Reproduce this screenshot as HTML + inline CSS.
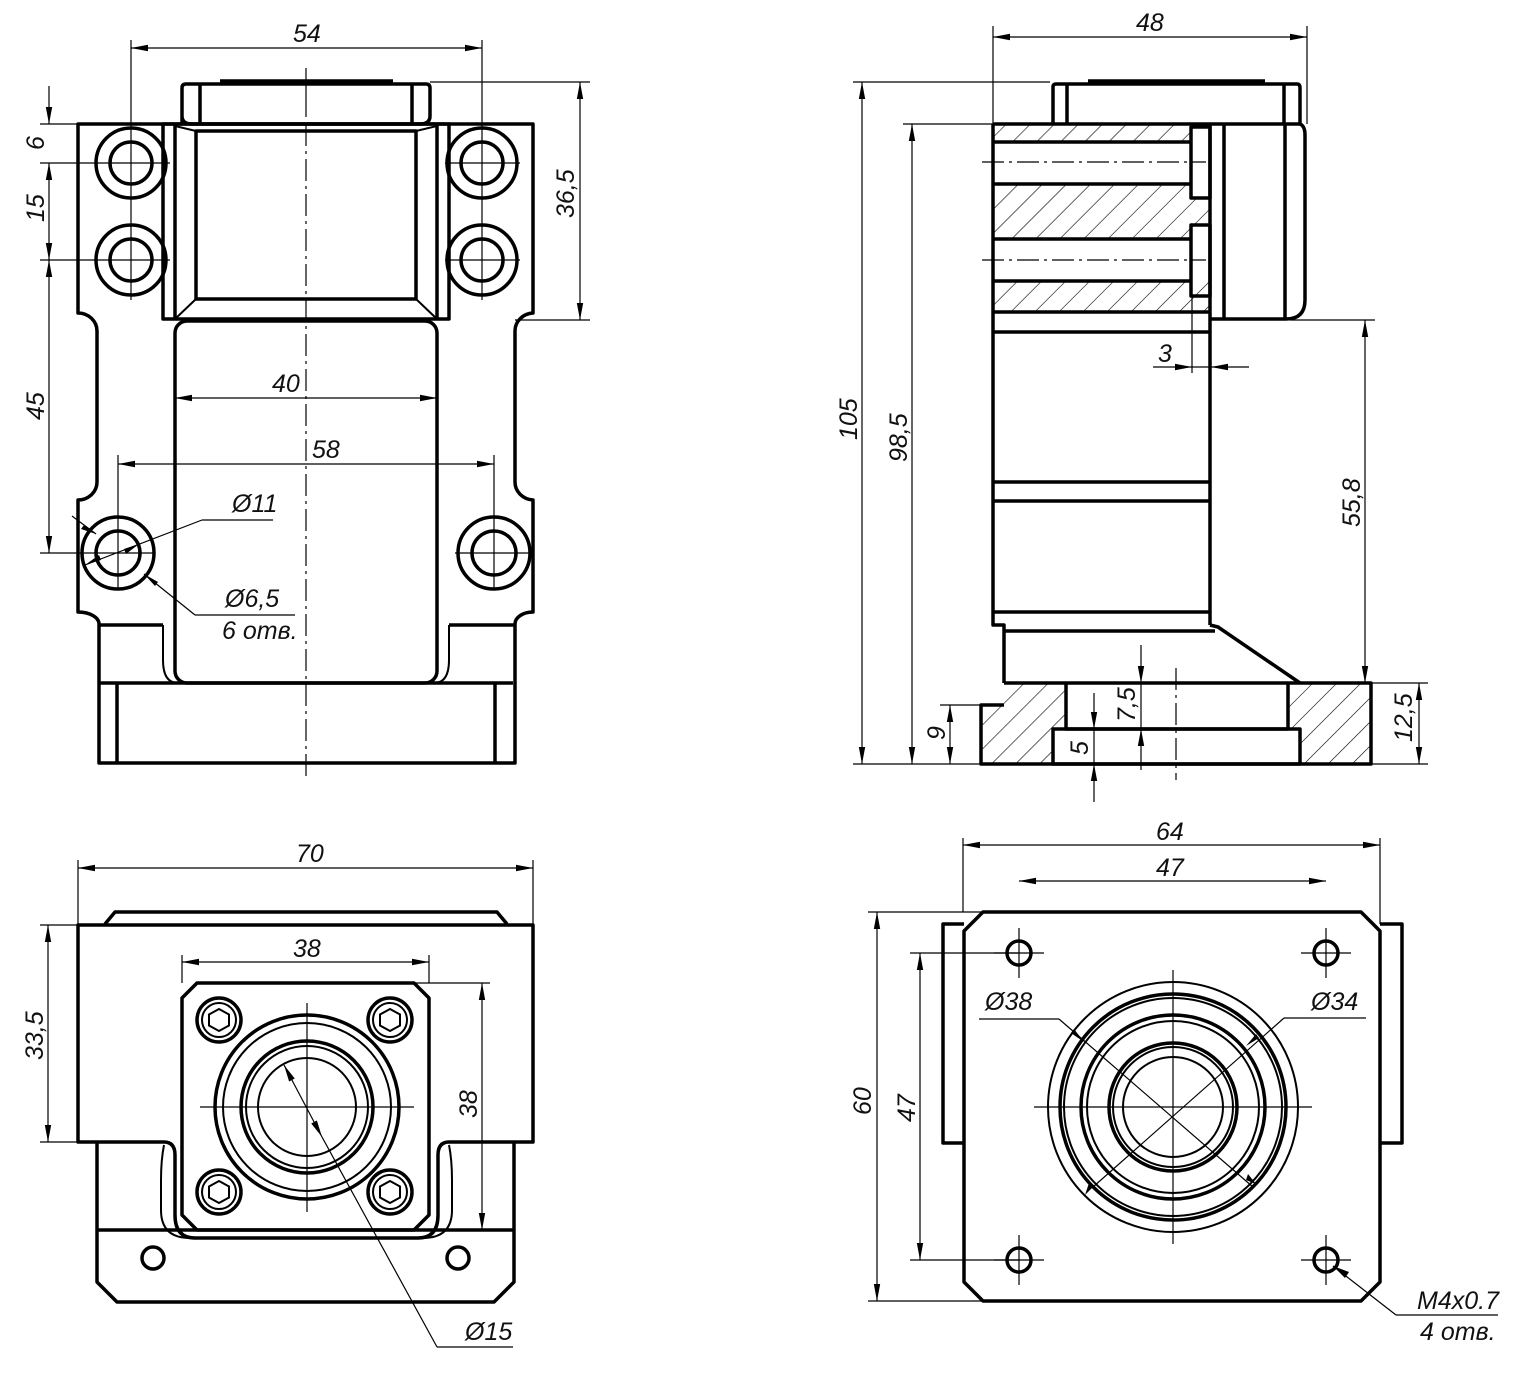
<!DOCTYPE html>
<html><head><meta charset="utf-8">
<style>
html,body{margin:0;padding:0;background:#fff;}
svg{display:block;}
text{font-family:"Liberation Sans Narrow","Liberation Sans",sans-serif;font-size:25px;font-style:italic;fill:#111;}
.k{fill:none;stroke:#000;stroke-width:3.5;stroke-linejoin:round;}
.m{fill:none;stroke:#000;stroke-width:2;}
.t{fill:none;stroke:#000;stroke-width:1.2;}
.d{fill:none;stroke:#000;stroke-width:1.2;marker-start:url(#a);marker-end:url(#a);}
.e{fill:none;stroke:#000;stroke-width:1.2;marker-end:url(#a);}
.c{fill:none;stroke:#000;stroke-width:1.2;stroke-dasharray:22,5,3,5;}
.h{fill:url(#hatch);stroke:none;}
</style></head><body>
<svg width="1525" height="1374" viewBox="0 0 1525 1374" xmlns="http://www.w3.org/2000/svg">
<defs>
<marker id="a" markerUnits="userSpaceOnUse" markerWidth="20" markerHeight="10" refX="0" refY="0" viewBox="-18 -5 20 10" orient="auto-start-reverse">
<path d="M0,0 L-17,-3.2 L-17,3.2 Z" fill="#000"/>
</marker>
<pattern id="hatch" patternUnits="userSpaceOnUse" width="17" height="17" patternTransform="rotate(45)">
<line x1="0" y1="0" x2="0" y2="17" stroke="#000" stroke-width="1.2"/>
</pattern>
</defs>

<!-- ================= TOP LEFT VIEW ================= -->
<path class="k" d="M182,124 V88 Q182,84 186,84 H426 Q430,84 430,88 V116 Q430,124 420,124 H192 Q182,124 182,116"/>
<line class="k" x1="200" y1="84" x2="200" y2="124"/>
<line class="k" x1="412" y1="84" x2="412" y2="124"/>
<line class="k" x1="220" y1="81" x2="393" y2="81"/>
<path class="k" d="M78,124 H533 V313 A19,18 0 0 0 515,331 V482 A19,18 0 0 0 533,500 V612 A18,12 0 0 0 515,624 V763 H99 V624 A21,12 0 0 0 78,612 V500 A19,18 0 0 0 97,482 V331 A19,18 0 0 0 78,313 Z"/>
<line class="k" x1="99" y1="625" x2="163" y2="625"/>
<line class="k" x1="449" y1="625" x2="515" y2="625"/>
<path class="m" d="M163,625 V660 Q163,683 178,683"/>
<path class="m" d="M449,625 V660 Q449,683 434,683"/>
<rect class="k" x="163" y="124" width="286" height="195"/>
<line class="k" x1="175" y1="124" x2="175" y2="319"/>
<line class="k" x1="437" y1="124" x2="437" y2="319"/>
<rect class="k" x="196" y="131" width="220" height="168"/>
<line class="m" x1="175" y1="319" x2="196" y2="299"/>
<line class="m" x1="437" y1="319" x2="416" y2="299"/>
<line class="m" x1="175" y1="126" x2="196" y2="131"/>
<line class="m" x1="437" y1="126" x2="416" y2="131"/>
<rect class="k" x="175" y="321" width="262" height="362" rx="12"/>
<line class="k" x1="99" y1="683" x2="513" y2="683"/>
<line class="k" x1="117" y1="683" x2="117" y2="763"/>
<line class="k" x1="495" y1="683" x2="495" y2="763"/>
<g class="k">
<circle cx="131" cy="163" r="35"/><circle cx="131" cy="163" r="21"/>
<circle cx="131" cy="260" r="35"/><circle cx="131" cy="260" r="21"/>
<circle cx="482" cy="163" r="35"/><circle cx="482" cy="163" r="21"/>
<circle cx="482" cy="260" r="35"/><circle cx="482" cy="260" r="21"/>
<circle cx="118" cy="553" r="36"/><circle cx="118" cy="553" r="22"/>
<circle cx="494" cy="553" r="36"/><circle cx="494" cy="553" r="22"/>
</g>
<line class="t" x1="306" y1="68" x2="306" y2="117"/>
<line class="c" x1="306" y1="124" x2="306" y2="777"/>
<line class="t" x1="131" y1="40" x2="131" y2="300"/>
<line class="t" x1="482" y1="40" x2="482" y2="300"/>
<line class="t" x1="118" y1="455" x2="118" y2="590"/>
<line class="t" x1="494" y1="455" x2="494" y2="590"/>
<line class="t" x1="40" y1="124" x2="78" y2="124"/>
<line class="t" x1="40" y1="163" x2="170" y2="163"/>
<line class="t" x1="40" y1="260" x2="170" y2="260"/>
<line class="t" x1="40" y1="553" x2="155" y2="553"/>
<line class="t" x1="445" y1="163" x2="520" y2="163"/>
<line class="t" x1="445" y1="260" x2="520" y2="260"/>
<line class="t" x1="455" y1="553" x2="530" y2="553"/>
<line class="t" x1="430" y1="82" x2="590" y2="82"/>
<line class="t" x1="515" y1="320" x2="590" y2="320"/>
<line class="d" x1="131" y1="48" x2="482" y2="48"/>
<text x="293" y="42">54</text>
<line class="d" x1="175" y1="398" x2="437" y2="398"/>
<text x="272" y="392">40</text>
<line class="d" x1="118" y1="464" x2="494" y2="464"/>
<text x="312" y="458">58</text>
<line class="d" x1="580" y1="82" x2="580" y2="320"/>
<text transform="translate(574,218) rotate(-90)">36,5</text>
<line class="e" x1="49" y1="86" x2="49" y2="124"/>
<line class="d" x1="49" y1="163" x2="49" y2="260"/>
<line class="d" x1="49" y1="260" x2="49" y2="553"/>
<text transform="translate(44,150) rotate(-90)">6</text>
<text transform="translate(44,222) rotate(-90)">15</text>
<text transform="translate(44,420) rotate(-90)">45</text>
<line class="t" x1="72" y1="516" x2="96" y2="534"/>
<line class="t" x1="85" y1="565" x2="202" y2="520"/>
<line class="t" x1="202" y1="520" x2="273" y2="520"/>
<path d="M85,565 l14,-10 l2,5 Z M139,544 l-13,10 l-2,-5 Z M96,534 l-12,-9 l-3,4 Z" fill="#000"/>
<line class="t" x1="144" y1="574" x2="195" y2="615"/>
<line class="t" x1="195" y1="615" x2="295" y2="615"/>
<path d="M144,574 l14,8 l-3,4 Z" fill="#000"/>
<text x="232" y="512">Ø11</text>
<text x="225" y="607">Ø6,5</text>
<text x="222" y="639">6 отв.</text>

<!-- ================= TOP RIGHT VIEW ================= -->
<path class="k" d="M1053,124 V87 Q1053,84 1056,84 H1297 Q1300,84 1300,88 V124"/>
<line class="k" x1="1067" y1="84" x2="1067" y2="124"/>
<line class="k" x1="1284" y1="84" x2="1284" y2="124"/>
<line class="k" x1="1088" y1="81" x2="1265" y2="81"/>
<rect class="h" x="993" y="124" width="198" height="18"/>
<rect class="h" x="993" y="184" width="198" height="55"/>
<rect class="h" x="993" y="281" width="217" height="31"/>
<rect class="h" x="1191" y="198" width="19" height="27"/>
<path class="k" d="M993,124 H1300 Q1305,126 1305,135 V300 Q1305,319 1286,319 H1210"/>
<line class="k" x1="993" y1="124" x2="993" y2="615"/>
<line class="k" x1="1210" y1="124" x2="1210" y2="625"/>
<line class="k" x1="1224" y1="124" x2="1224" y2="319"/>
<line class="k" x1="1285" y1="124" x2="1285" y2="319"/>
<line class="k" x1="993" y1="142" x2="1191" y2="142"/>
<line class="k" x1="993" y1="184" x2="1191" y2="184"/>
<line class="k" x1="993" y1="239" x2="1191" y2="239"/>
<line class="k" x1="993" y1="281" x2="1191" y2="281"/>
<rect class="k" x="1191" y="127" width="19" height="71"/>
<rect class="k" x="1191" y="225" width="19" height="71"/>
<line class="k" x1="993" y1="312" x2="1210" y2="312"/>
<line class="k" x1="993" y1="332" x2="1210" y2="332"/>
<line class="k" x1="993" y1="482" x2="1210" y2="482"/>
<line class="k" x1="993" y1="501" x2="1210" y2="501"/>
<line class="k" x1="993" y1="612" x2="1210" y2="612"/>
<line class="c" x1="982" y1="162" x2="1206" y2="162"/>
<line class="c" x1="982" y1="260" x2="1206" y2="260"/>
<path class="k" d="M993,615 V625 H1004 V683"/>
<line class="k" x1="1004" y1="631" x2="1215" y2="631"/>
<path class="k" d="M1210,625 L1218,627 L1300,683"/>
<path class="h" d="M981,705 H1004 V683 H1066 V729 H1053 V764 H981 Z"/>
<path class="h" d="M1288,683 H1371 V764 H1300 V729 H1288 Z"/>
<path class="k" d="M1004,683 H1371 V764 H981 V705 H1004"/>
<path class="k" d="M1066,683 V729 H1288 V683"/>
<rect class="k" x="1053" y="729" width="247" height="35"/>
<line class="c" x1="1176" y1="668" x2="1176" y2="780"/>
<line class="t" x1="993" y1="26" x2="993" y2="124"/>
<line class="t" x1="1307" y1="26" x2="1307" y2="124"/>
<line class="d" x1="993" y1="37" x2="1307" y2="37"/>
<text x="1136" y="31">48</text>
<line class="t" x1="853" y1="82" x2="1050" y2="82"/>
<line class="t" x1="903" y1="124" x2="993" y2="124"/>
<line class="t" x1="853" y1="764" x2="981" y2="764"/>
<line class="t" x1="940" y1="705" x2="981" y2="705"/>
<line class="d" x1="862" y1="82" x2="862" y2="764"/>
<line class="d" x1="912" y1="124" x2="912" y2="764"/>
<line class="d" x1="950" y1="705" x2="950" y2="764"/>
<text transform="translate(857,440) rotate(-90)">105</text>
<text transform="translate(907,462) rotate(-90)">98,5</text>
<text transform="translate(945,740) rotate(-90)">9</text>
<line class="t" x1="1290" y1="320" x2="1375" y2="320"/>
<line class="t" x1="1371" y1="683" x2="1428" y2="683"/>
<line class="t" x1="1371" y1="764" x2="1428" y2="764"/>
<line class="d" x1="1365" y1="320" x2="1365" y2="683"/>
<text transform="translate(1360,527) rotate(-90)">55,8</text>
<line class="d" x1="1419" y1="683" x2="1419" y2="764"/>
<text transform="translate(1412,742) rotate(-90)">12,5</text>
<line class="t" x1="1192" y1="296" x2="1192" y2="373"/>
<line class="t" x1="1153" y1="367" x2="1249" y2="367"/>
<path d="M1192,367 l-17,-3.2 l0,6.4 Z M1211,367 l17,-3.2 l0,6.4 Z" fill="#000"/>
<text x="1158" y="362">3</text>
<line class="e" x1="1141" y1="645" x2="1141" y2="683"/>
<line class="e" x1="1141" y1="770" x2="1141" y2="729"/>
<line class="t" x1="1141" y1="683" x2="1141" y2="729"/>
<text transform="translate(1135,722) rotate(-90)">7,5</text>
<line class="e" x1="1094" y1="693" x2="1094" y2="729"/>
<line class="e" x1="1094" y1="802" x2="1094" y2="764"/>
<line class="t" x1="1094" y1="729" x2="1094" y2="764"/>
<text transform="translate(1088,755) rotate(-90)">5</text>

<!-- ================= BOTTOM LEFT VIEW ================= -->
<path class="k" d="M105,924 L115,912 H497 L507,924"/>
<path class="k" d="M78,925 H533 V1142 H449 Q438,1142 438,1155 V1215 Q438,1238 418,1238 H195 Q175,1238 175,1215 V1155 Q175,1142 164,1142 H78 Z"/>
<path class="k" d="M97,1143 V1282 L117,1302 H494 L514,1282 V1143"/>
<line class="k" x1="97" y1="1230" x2="514" y2="1230"/>
<path class="m" d="M164,1145 Q161,1160 161,1180 V1210 Q161,1238 190,1238"/>
<path class="m" d="M449,1145 Q452,1160 452,1180 V1210 Q452,1238 423,1238"/>
<path class="k" d="M197,983 H414 L429,998 V1215 L414,1230 H197 L182,1215 V998 Z"/>
<circle class="k" cx="153" cy="1258" r="11"/>
<circle class="k" cx="458" cy="1258" r="11"/>
<g>
<circle class="k" cx="219" cy="1020" r="22"/><circle class="m" cx="219" cy="1020" r="17"/>
<circle class="k" cx="390" cy="1020" r="22"/><circle class="m" cx="390" cy="1020" r="17"/>
<circle class="k" cx="219" cy="1192" r="22"/><circle class="m" cx="219" cy="1192" r="17"/>
<circle class="k" cx="390" cy="1192" r="22"/><circle class="m" cx="390" cy="1192" r="17"/>
<polygon class="m" points="219,1009 229,1014.5 229,1025.5 219,1031 209,1025.5 209,1014.5"/>
<polygon class="m" points="390,1009 400,1014.5 400,1025.5 390,1031 380,1025.5 380,1014.5"/>
<polygon class="m" points="219,1181 229,1186.5 229,1197.5 219,1203 209,1197.5 209,1186.5"/>
<polygon class="m" points="390,1181 400,1186.5 400,1197.5 390,1203 380,1197.5 380,1186.5"/>
</g>
<circle class="k" cx="307" cy="1107" r="92"/>
<circle class="m" cx="307" cy="1107" r="84"/>
<circle class="k" cx="307" cy="1107" r="66"/>
<circle class="m" cx="307" cy="1107" r="61"/>
<circle class="m" cx="307" cy="1107" r="49"/>
<line class="t" x1="200" y1="1107" x2="414" y2="1107"/>
<line class="t" x1="307" y1="1003" x2="307" y2="1212"/>
<line class="t" x1="182" y1="955" x2="182" y2="983"/>
<line class="t" x1="429" y1="955" x2="429" y2="983"/>
<line class="d" x1="182" y1="962" x2="429" y2="962"/>
<text x="293" y="957">38</text>
<line class="t" x1="415" y1="983" x2="490" y2="983"/>
<line class="t" x1="429" y1="1230" x2="490" y2="1230"/>
<line class="d" x1="482" y1="983" x2="482" y2="1230"/>
<text transform="translate(477,1118) rotate(-90)">38</text>
<line class="t" x1="78" y1="860" x2="78" y2="924"/>
<line class="t" x1="533" y1="860" x2="533" y2="924"/>
<line class="d" x1="78" y1="868" x2="533" y2="868"/>
<text x="296" y="862">70</text>
<line class="t" x1="40" y1="925" x2="78" y2="925"/>
<line class="t" x1="40" y1="1142" x2="78" y2="1142"/>
<line class="d" x1="48" y1="925" x2="48" y2="1142"/>
<text transform="translate(43,1060) rotate(-90)">33,5</text>
<line class="d" x1="284" y1="1065" x2="322" y2="1137"/>
<line class="t" x1="322" y1="1137" x2="437" y2="1347"/>
<line class="t" x1="437" y1="1347" x2="513" y2="1347"/>
<text x="465" y="1340">Ø15</text>

<!-- ================= BOTTOM RIGHT VIEW ================= -->
<path class="k" d="M983,912 H1361 L1380,931 V1282 L1361,1301 H983 L964,1282 V931 Z"/>
<path class="k" d="M964,924 H943 V1143 H964"/>
<path class="k" d="M1380,924 H1402 V1143 H1380"/>
<g>
<circle class="k" cx="1019" cy="953" r="12"/>
<circle class="k" cx="1326" cy="953" r="12"/>
<circle class="k" cx="1019" cy="1260" r="12"/>
<circle class="k" cx="1326" cy="1260" r="12"/>
</g>
<g class="t">
<line x1="994" y1="953" x2="1044" y2="953"/><line x1="1019" y1="928" x2="1019" y2="978"/>
<line x1="1301" y1="953" x2="1351" y2="953"/><line x1="1326" y1="928" x2="1326" y2="978"/>
<line x1="994" y1="1260" x2="1044" y2="1260"/><line x1="1019" y1="1235" x2="1019" y2="1285"/>
<line x1="1301" y1="1260" x2="1351" y2="1260"/><line x1="1326" y1="1235" x2="1326" y2="1285"/>
</g>
<circle class="m" cx="1173" cy="1107" r="125"/>
<circle class="k" cx="1173" cy="1107" r="113"/>
<circle class="m" cx="1173" cy="1107" r="109"/>
<circle class="k" cx="1173" cy="1107" r="92"/>
<circle class="m" cx="1173" cy="1107" r="86"/>
<circle class="k" cx="1173" cy="1107" r="64"/>
<circle class="m" cx="1173" cy="1107" r="60"/>
<circle class="m" cx="1173" cy="1107" r="50"/>
<line class="t" x1="1034" y1="1107" x2="1312" y2="1107"/>
<line class="t" x1="1173" y1="970" x2="1173" y2="1244"/>
<line class="t" x1="1059" y1="1019" x2="1253" y2="1187"/>
<line class="t" x1="1093" y1="1187" x2="1284" y2="1018"/>
<line class="t" x1="979" y1="1019" x2="1059" y2="1019"/>
<line class="t" x1="1284" y1="1018" x2="1366" y2="1018"/>
<path d="M1084,1042 l-13,-9 l3,-4 Z M1246,1180 l2,-6 l8,10 Z M1246,1046 l10,-12 l3,4 Z M1093,1187 l-4,-4 l-4,12 Z" fill="#000"/>
<text x="985" y="1010">Ø38</text>
<text x="1311" y="1010">Ø34</text>
<line class="t" x1="963" y1="838" x2="963" y2="912"/>
<line class="t" x1="1380" y1="838" x2="1380" y2="924"/>
<line class="d" x1="963" y1="845" x2="1380" y2="845"/>
<text x="1156" y="840">64</text>
<line class="d" x1="1019" y1="881" x2="1326" y2="881"/>
<text x="1156" y="876">47</text>
<line class="t" x1="868" y1="912" x2="983" y2="912"/>
<line class="t" x1="868" y1="1301" x2="983" y2="1301"/>
<line class="d" x1="877" y1="912" x2="877" y2="1301"/>
<text transform="translate(871,1115) rotate(-90)">60</text>
<line class="t" x1="910" y1="953" x2="1019" y2="953"/>
<line class="t" x1="910" y1="1260" x2="1019" y2="1260"/>
<line class="d" x1="920" y1="953" x2="920" y2="1260"/>
<text transform="translate(915,1122) rotate(-90)">47</text>
<line class="t" x1="1396" y1="1315" x2="1498" y2="1315"/>
<line class="t" x1="1333" y1="1266" x2="1396" y2="1315"/>
<path d="M1333,1266 l16,6 l-4,6 Z" fill="#000"/>
<text x="1417" y="1309">M4x0.7</text>
<text x="1420" y="1340">4 отв.</text>
</svg>
</body></html>
